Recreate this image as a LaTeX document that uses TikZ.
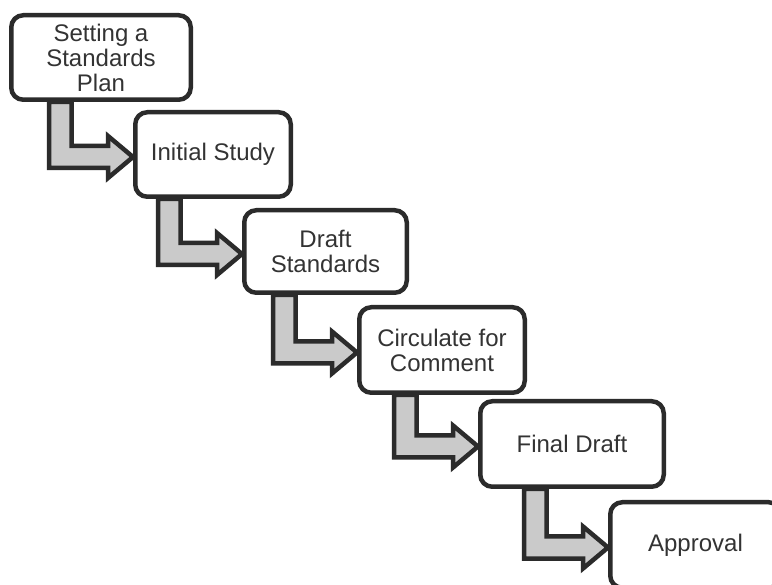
\documentclass[tikz,border=0pt]{standalone}
\usepackage{fontspec}
\setmainfont{Liberation Sans}
\usetikzlibrary{calc,backgrounds}
\definecolor{edge}{HTML}{2B2B2B}
\definecolor{arrowfill}{HTML}{CACACA}
\definecolor{txt}{HTML}{333333}
\tikzset{
  stepbox/.style={draw=edge, line width=4.5pt, fill=white, rounded corners=12pt,
    inner sep=0pt, align=center, text=txt, font=\fontsize{24}{25}\selectfont},
  stairarrow/.style={draw=edge, fill=arrowfill, line width=4.5pt, line join=miter, miter limit=10}
}
\newcommand\stairlink[2]{%
  \coordinate (#2tip) at ($(#2.west)+(0,2.5)$);
  \coordinate (#2L) at ($(#2tip)+(-84,0)$);
  \coordinate (#2R) at ($(#2tip)+(-61.5,0)$);
  \draw[stairarrow] (#2L |- #1.south) -- ($(#2tip)+(-84,11)$) -- ($(#2tip)+(-25,11)$)
    -- ($(#2tip)+(-25,21)$) -- (#2tip) -- ($(#2tip)+(-25,-21)$) -- ($(#2tip)+(-25,-11)$)
    -- ($(#2tip)+(-61.5,-11)$) -- (#2R |- #1.south) -- cycle;
}
\begin{document}
\begin{tikzpicture}[x=1pt,y=-1pt]
\useasboundingbox (0,0) rectangle (772,585);
\clip (0,0) rectangle (772,585);
\node[stepbox, minimum width=179.5pt, minimum height=84.5pt] (b1) at (101,57.5) {Setting a\\Standards\\Plan};
\node[stepbox, minimum width=155.5pt, minimum height=84.5pt] (b2) at (213,154.5) {Initial Study};
\node[stepbox, minimum width=162.5pt, minimum height=82.5pt] (b3) at (325.5,251.5) {Draft\\Standards};
\node[stepbox, minimum width=165.5pt, minimum height=85.5pt] (b4) at (442,350) {Circulate for\\Comment};
\node[stepbox, minimum width=183.5pt, minimum height=85.5pt] (b5) at (572,444) {Final Draft};
\node[stepbox, minimum width=170.5pt, minimum height=85.5pt] (b6) at (695.5,545) {Approval};
\begin{scope}[on background layer]
\stairlink{b1}{b2}
\stairlink{b2}{b3}
\stairlink{b3}{b4}
\stairlink{b4}{b5}
\stairlink{b5}{b6}
\end{scope}
\end{tikzpicture}
\end{document}
